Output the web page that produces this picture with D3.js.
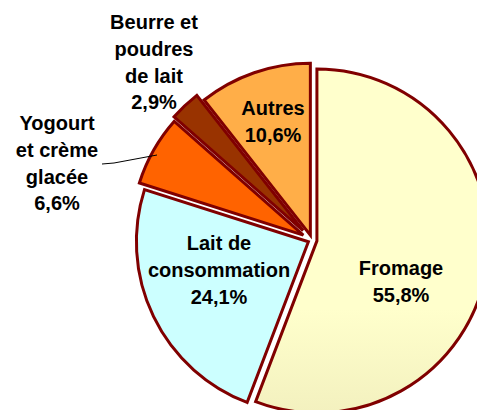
<!DOCTYPE html>
<html>
<head>
<meta charset="utf-8">
<script src="https://cdn.jsdelivr.net/npm/d3@7"></script>
<style>
  html, body { margin: 0; padding: 0; background: #fff; }
  svg { display: block; }
  .lbl { font-family: "Liberation Sans", Arial, sans-serif; font-weight: bold; font-size: 20px; fill: #000; }
</style>
</head>
<body>
<div id="chart"></div>
<script>
  const W = 477, H = 410;

  // data
  const categories = ["Fromage", "Lait de consommation", "Yogourt et crème glacée", "Beurre et poudres de lait", "Autres"];
  const shares = [55.8, 24.1, 6.6, 2.9, 10.6];
  const labelLines = [
    ["Fromage"],
    ["Lait de", "consommation"],
    ["Yogourt", "et crème", "glacée"],
    ["Beurre et", "poudres", "de lait"],
    ["Autres"]
  ];

  // layout (not data)
  const cx = 312, cy = 240, R = 172;
  const explode = [5, 4, 10, 13, 5];
  const labelAt = [[401, 268], [219, 243], [57, 123], [154, 22], [273, 108]];
  const lineH = 26.7;

  const fills = ["url(#gFrom)", "#CCFFFF", "url(#gYog)", "#993300", "url(#gAut)"];

  const svg = d3.select("#chart").append("svg")
    .attr("width", W).attr("height", H);

  const defs = svg.append("defs");
  function vGrad(id, top, bottom, y1, y2) {
    const g = defs.append("linearGradient").attr("id", id)
      .attr("gradientUnits", "userSpaceOnUse")
      .attr("x1", 0).attr("x2", 0).attr("y1", y1).attr("y2", y2);
    g.append("stop").attr("offset", 0).attr("stop-color", top);
    g.append("stop").attr("offset", 1).attr("stop-color", bottom);
  }
  vGrad("gFrom", "#FFFFCC", "#D8D0A0", 68, 412);
  vGrad("gYog", "#FF6300", "#FF9452", 128, 240);
  vGrad("gAut", "#FFAE48", "#FF9500", 62, 240);

  const pie = d3.pie().sort(null).value(d => d);
  const arcs = pie(shares);
  const arc = d3.arc().innerRadius(0).outerRadius(R);

  const g = svg.append("g").attr("transform", `translate(${cx},${cy})`);

  g.selectAll("path.slice")
    .data(arcs)
    .join("path")
    .attr("class", "slice")
    .attr("d", arc)
    .attr("fill", (d, i) => fills[i])
    .attr("stroke", "#800000")
    .attr("stroke-width", 3)
    .attr("stroke-linejoin", "miter")
    .attr("transform", (d, i) => {
      const a = (d.startAngle + d.endAngle) / 2;
      return `translate(${explode[i] * Math.sin(a)},${-explode[i] * Math.cos(a)})`;
    });

  // leader line for Yogourt
  svg.append("polyline")
    .attr("points", "102,164 114,163 157,155")
    .attr("fill", "none")
    .attr("stroke", "#000")
    .attr("stroke-width", 1);

  const labels = svg.append("g");
  arcs.forEach((d, i) => {
    const lines = labelLines[i].concat([d3.format(".1f")(shares[i]).replace(".", ",") + "%"]);
    const t = labels.append("text")
      .attr("class", "lbl")
      .attr("text-anchor", "middle")
      .attr("x", labelAt[i][0])
      .attr("y", labelAt[i][1]);
    lines.forEach((s, k) => {
      t.append("tspan")
        .attr("x", labelAt[i][0])
        .attr("y", labelAt[i][1] + k * lineH)
        .attr("dy", "0.36em")
        .text(s);
    });
  });
</script>
</body>
</html>
